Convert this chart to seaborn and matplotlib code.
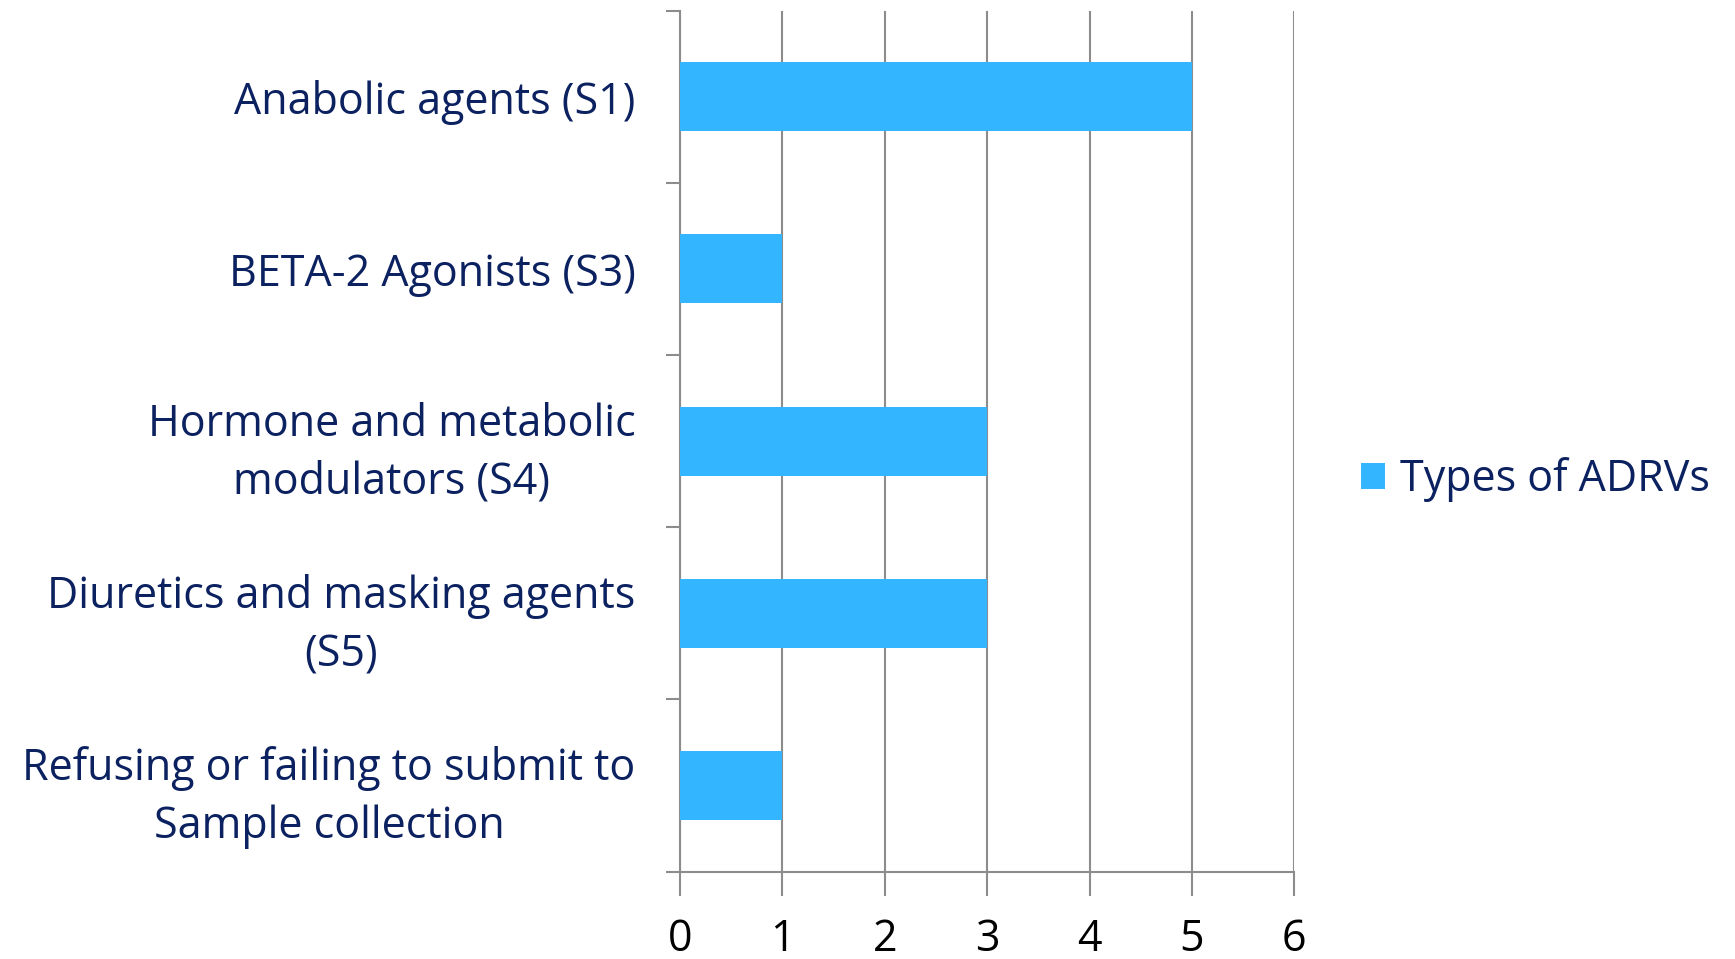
import matplotlib

matplotlib.use("Agg")

import matplotlib.pyplot as plt
import numpy as np
import pandas as pd
import seaborn as sns

categories = [
    "Anabolic agents (S1)",
    "BETA-2 Agonists (S3)",
    "Hormone and metabolic\nmodulators (S4)",
    "Diuretics and masking agents\n(S5)",
    "Refusing or failing to submit to\nSample collection",
]
counts = [5, 1, 3, 3, 1]
series_name = "Types of ADRVs"
x_ticks = [0, 1, 2, 3, 4, 5, 6]

BAR = "#33B6FF"
NAVY = "#0B2160"
GRID = "#8C8C8C"
FS = 31

sns.set_theme(style="white")
plt.rcParams["font.family"] = ["Open Sans", "DejaVu Sans"]

df = pd.DataFrame({"category": categories, "count": counts, "series": series_name})

fig = plt.figure(figsize=(17.35, 9.59), dpi=100)
ax = fig.add_axes([0.392, 0.091, 0.354, 0.898])

sns.barplot(data=df, y="category", x="count", hue="series", orient="h",
            palette=[BAR], width=0.4, ax=ax, zorder=3, saturation=1, linewidth=0)

ax.set_xlim(0, 6)
ax.set_ylim(len(categories) - 0.5, -0.5)
ax.set_xticks(x_ticks)
ax.set_xticklabels([str(t) for t in x_ticks], fontsize=FS, color="black")
ax.xaxis.grid(True, color=GRID, lw=1.5, zorder=0)
ax.yaxis.grid(False)
ax.set_axisbelow(True)

ax.tick_params(axis="x", length=17, width=1.5, color=GRID, pad=16, bottom=True)
ax.tick_params(axis="y", which="major", length=0, pad=32)
ax.set_yticks(np.arange(len(categories) + 1) - 0.5, minor=True)
ax.tick_params(axis="y", which="minor", length=10, width=1.5, color=GRID, left=True)
for lbl in ax.get_yticklabels():
    lbl.set_fontsize(FS)
    lbl.set_color(NAVY)
    lbl.set_linespacing(1.4)
    lbl.set_horizontalalignment("right")
    lbl.set_multialignment("center")

for side in ("top", "right"):
    ax.spines[side].set_visible(False)
for side in ("left", "bottom"):
    ax.spines[side].set_color(GRID)
    ax.spines[side].set_linewidth(1.5)

ax.set_xlabel("")
ax.set_ylabel("")

handles, labels = ax.get_legend_handles_labels()
ax.legend_.remove()
fig.legend(handles, labels, loc="center left", bbox_to_anchor=(0.762, 0.5),
           frameon=False, fontsize=FS, handlelength=0.55, handleheight=0.55,
           handletextpad=0.35, labelcolor=NAVY)

fig.savefig("out.png", dpi=100)
